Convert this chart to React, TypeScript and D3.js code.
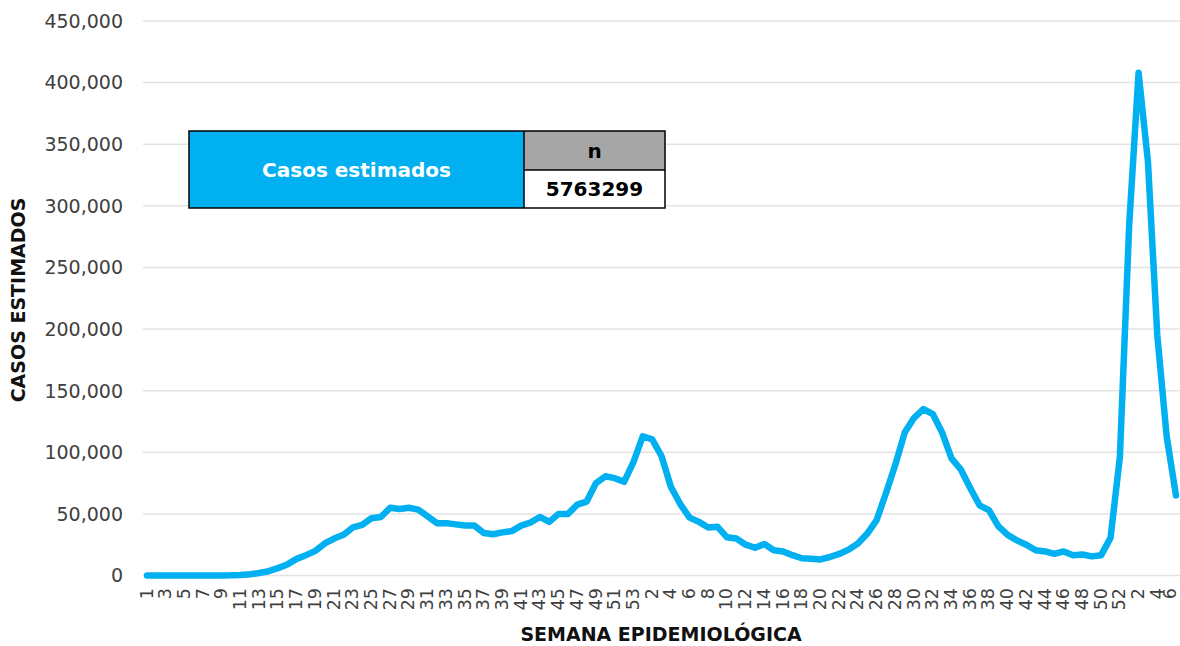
import React from "react";
import * as d3 from "d3";

const weeks2020 = d3.range(1, 54);
const weeks2021 = d3.range(1, 53);
const weeks2022 = d3.range(1, 7);

const cases2020 = [
  0, 0, 0, 0, 0, 0, 0, 50, 100, 200, 500, 1000,
  2000, 3500, 6000, 9000, 13500, 16500, 20000, 26000, 30000, 33000,
  39000, 41000, 46500, 47500, 55000, 54000, 55000, 53500, 48000, 42500,
  42500, 41500, 40500, 40500, 34500, 33500, 35000, 36000, 40500, 43000,
  47500, 43500, 50000, 50000, 57500, 60000, 75000, 80500, 79000, 76000, 92000,
];
const cases2021 = [
  113000, 110500, 97000, 72000, 58000, 47000, 43500, 39000, 39500, 31000,
  30000, 25000, 22500, 25500, 20500, 19500, 16500, 14000, 13500, 13000,
  15000, 17500, 21000, 26000, 34000, 45000, 67000, 90000, 116000, 128000,
  135000, 131000, 116000, 95000, 86000, 71000, 57000, 53000, 40000, 33000,
  28500, 25000, 20500, 19500, 17500, 19500, 16500, 17000, 15500, 16500,
  30500, 96000,
];
const cases2022 = [285000, 408000, 336000, 195000, 113000, 65000];

const yTicks = [0, 50000, 100000, 150000, 200000, 250000, 300000, 350000, 400000, 450000];
const tableHeader = "n";
const tableLabel = "Casos estimados";
const tableValue = "5763299";
const xTitle = "SEMANA EPIDEMIOLÓGICA";
const yTitle = "CASOS ESTIMADOS";

type Pt = { key: string; week: number; value: number; idx: number };
const points: Pt[] = [
  ...weeks2020.map((w, i) => ({ key: `2020-${w}`, week: w, value: cases2020[i], idx: 0 })),
  ...weeks2021.map((w, i) => ({ key: `2021-${w}`, week: w, value: cases2021[i], idx: 0 })),
  ...weeks2022.map((w, i) => ({ key: `2022-${w}`, week: w, value: cases2022[i], idx: 0 })),
].map((p, i) => ({ ...p, idx: i }));

const FONT = "'DejaVu Sans', sans-serif";
const BLUE = "#00B0F0";

export default function App() {
  const W = 1180, H = 646;
  const x = d3.scalePoint<string>().domain(points.map((p) => p.key)).range([147, 1176]);
  const y = d3.scaleLinear().domain([0, 450000]).range([575.5, 21]);
  const line = d3
    .line<Pt>()
    .x((p) => x(p.key) as number)
    .y((p) => y(p.value));
  const fmt = d3.format(",");

  const tX0 = 189, tX1 = 524, tX2 = 665, tY0 = 131, tY1 = 170, tY2 = 208;

  return (
    <div style={{ position: "fixed", left: 0, top: 0, width: W, height: H, background: "#fff" }}>
      <svg width={W} height={H} style={{ display: "block" }} fontFamily={FONT}>
        <rect width={W} height={H} fill="#fff" />
        {yTicks.map((t) => (
          <g key={t}>
            <line x1={143} x2={1180} y1={y(t)} y2={y(t)} stroke="#e3e3e3" strokeWidth={1.5} />
            <text x={123} y={y(t)} dy="0.36em" textAnchor="end" fontSize={19} fill="#404040">
              {fmt(t)}
            </text>
          </g>
        ))}
        {points
          .filter((p) => p.idx % 2 === 0)
          .map((p) => (
            <text
              key={p.key}
              transform={`translate(${Math.min((x(p.key) as number) + 5.5, 1176)},588) rotate(-90)`}
              textAnchor="end"
              fontSize={17.5}
              fill="#404040"
            >
              {p.week}
            </text>
          ))}
        <path d={line(points) || ""} fill="none" stroke={BLUE} strokeWidth={6.5} strokeLinejoin="round" strokeLinecap="round" />
        <text x={661} y={641} textAnchor="middle" fontSize={19} fontWeight="bold" fill="#111">
          {xTitle}
        </text>
        <text transform={`translate(25,300) rotate(-90)`} textAnchor="middle" fontSize={19} fontWeight="bold" fill="#111">
          {yTitle}
        </text>
        <g>
          <rect x={tX0} y={tY0} width={tX1 - tX0} height={tY2 - tY0} fill={BLUE} />
          <rect x={tX1} y={tY0} width={tX2 - tX1} height={tY1 - tY0} fill="#A6A6A6" />
          <rect x={tX1} y={tY1} width={tX2 - tX1} height={tY2 - tY1} fill="#fff" />
          <rect x={tX0} y={tY0} width={tX2 - tX0} height={tY2 - tY0} fill="none" stroke="#000" strokeWidth={1.5} />
          <line x1={tX1} x2={tX1} y1={tY0} y2={tY2} stroke="#000" strokeWidth={1.5} />
          <line x1={tX1} x2={tX2} y1={tY1} y2={tY1} stroke="#000" strokeWidth={1.5} />
          <text x={(tX0 + tX1) / 2} y={(tY0 + tY2) / 2} dy="0.36em" textAnchor="middle" fontSize={20} fontWeight="bold" fill="#fff">
            {tableLabel}
          </text>
          <text x={(tX1 + tX2) / 2} y={(tY0 + tY1) / 2} dy="0.36em" textAnchor="middle" fontSize={20} fontWeight="bold" fill="#000">
            {tableHeader}
          </text>
          <text x={(tX1 + tX2) / 2} y={(tY1 + tY2) / 2} dy="0.36em" textAnchor="middle" fontSize={20} fontWeight="bold" fill="#000">
            {tableValue}
          </text>
        </g>
      </svg>
    </div>
  );
}
